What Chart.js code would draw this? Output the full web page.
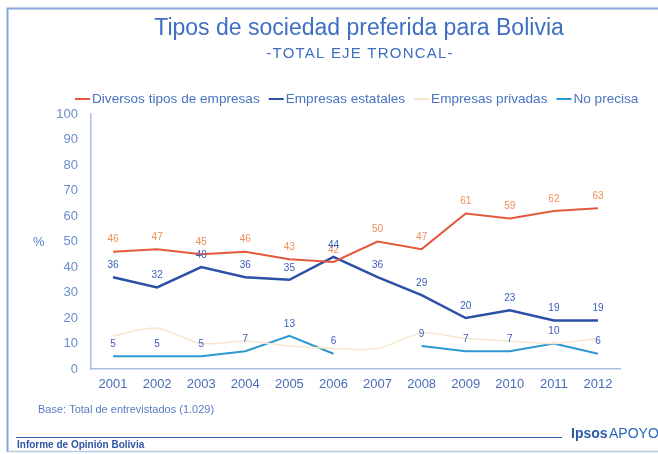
<!DOCTYPE html>
<html>
<head>
<meta charset="utf-8">
<script src="https://cdn.jsdelivr.net/npm/chart.js@4/dist/chart.umd.min.js"></script>
<style>
html,body{margin:0;padding:0;background:#fff;}
canvas{display:block;}
</style>
</head>
<body>
<canvas id="c" width="658" height="454"></canvas>
<script>
const years = ['2001','2002','2003','2004','2005','2006','2007','2008','2009','2010','2011','2012'];
const diversos = [46,47,45,46,43,42,50,47,61,59,62,63];
const estatales = [36,32,40,36,35,44,36,29,20,23,19,19];
const privadas = [13,16,10,11,9,8,8,14,12,11,10,12];
const noPrecisa = [5,5,5,7,13,6,null,9,7,7,10,6];
const yTicks = [0,10,20,30,40,50,60,70,80,90,100];

const FONT = '"Liberation Sans", Arial, sans-serif';

const labelsPlugin = {
  id: 'labelsPlugin',
  afterDatasetsDraw(chart) {
    const ctx = chart.ctx;
    ctx.save();
    ctx.font = '10px ' + FONT;
    ctx.textAlign = 'center';
    ctx.textBaseline = 'middle';
    chart.data.datasets.forEach((ds, di) => {
      if (!ds.labelColor) return;
      const meta = chart.getDatasetMeta(di);
      meta.data.forEach((pt, i) => {
        const v = ds.data[i];
        if (v === null || v === undefined) return;
        ctx.fillStyle = ds.labelColor;
        ctx.fillText(String(v), pt.x, pt.y - 12);
      });
    });
    ctx.restore();
  }
};

const decorPlugin = {
  id: 'decorPlugin',
  beforeDraw(chart) {
    const ctx = chart.ctx;
    ctx.save();
    ctx.fillStyle = '#ffffff';
    ctx.fillRect(0, 0, chart.width, chart.height);
    ctx.strokeStyle = '#8aa8dc';
    ctx.lineWidth = 2;
    ctx.beginPath();
    ctx.moveTo(660, 8.5);
    ctx.lineTo(7.5, 8.5);
    ctx.lineTo(7.5, 452);
    ctx.stroke();
    ctx.strokeStyle = '#b8cbe8';
    ctx.lineWidth = 1.5;
    ctx.beginPath();
    ctx.moveTo(7.5, 451.5);
    ctx.lineTo(660, 451.5);
    ctx.stroke();
    ctx.restore();
  },
  afterDraw(chart) {
    const ctx = chart.ctx;
    ctx.save();
    ctx.textAlign = 'center';
    ctx.textBaseline = 'middle';
    ctx.fillStyle = '#3f6fc2';
    ctx.font = '23px ' + FONT;
    ctx.fillText('Tipos de sociedad preferida para Bolivia', 359, 29);
    ctx.font = '15px ' + FONT;
    ctx.letterSpacing = '1.2px';
    ctx.fillText('-TOTAL EJE TRONCAL-', 360, 54);
    ctx.letterSpacing = '0px';

    // legend
    ctx.font = '13.6px ' + FONT;
    ctx.textAlign = 'left';
    let x = 75;
    const ly = 99;
    chart.data.datasets.forEach(ds => {
      ctx.strokeStyle = ds.borderColor;
      ctx.lineWidth = 2;
      ctx.beginPath();
      ctx.moveTo(x, ly);
      ctx.lineTo(x + 15, ly);
      ctx.stroke();
      x += 17;
      ctx.fillStyle = '#4a72c2';
      ctx.fillText(ds.label, x, ly);
      x += ctx.measureText(ds.label).width + 9;
    });

    ctx.font = '13px ' + FONT;
    ctx.fillStyle = '#5a7cc4';
    ctx.fillText('%', 33, 242);

    ctx.font = '11px ' + FONT;
    ctx.fillStyle = '#5a7cc4';
    ctx.fillText('Base: Total de entrevistados (1.029)', 38, 410);

    ctx.strokeStyle = '#3a64b4';
    ctx.lineWidth = 1;
    ctx.beginPath();
    ctx.moveTo(16, 437.5);
    ctx.lineTo(562, 437.5);
    ctx.stroke();
    ctx.font = 'bold 10px ' + FONT;
    ctx.fillStyle = '#2f55a8';
    ctx.fillText('Informe de Opinión Bolivia', 17, 445);
    ctx.font = 'bold 14px ' + FONT;
    ctx.fillStyle = '#2a5aa8';
    ctx.fillText('Ipsos', 571, 434);
    ctx.font = '14px ' + FONT;
    ctx.fillStyle = '#2a66b8';
    ctx.fillText('APOYO', 609, 434);
    ctx.restore();
  }
};

new Chart(document.getElementById('c'), {
  type: 'line',
  data: {
    labels: years,
    datasets: [
      { label: 'Diversos tipos de empresas', data: diversos, borderColor: '#e4583c', borderWidth: 2, labelColor: '#f08c58', pointRadius: 0, tension: 0 },
      { label: 'Empresas estatales', data: estatales, borderColor: '#2b50a8', borderWidth: 2.5, labelColor: '#3a5cb8', pointRadius: 0, tension: 0 },
      { label: 'Empresas privadas', data: privadas, borderColor: '#f7e6cc', borderWidth: 1.5, pointRadius: 0, tension: 0.3 },
      { label: 'No precisa', data: noPrecisa, borderColor: '#2c98cf', borderWidth: 2, labelColor: '#3a5cb8', pointRadius: 0, tension: 0, spanGaps: false }
    ]
  },
  options: {
    responsive: false,
    animation: false,
    devicePixelRatio: 1,
    layout: { padding: { left: 0, right: 38, top: 114, bottom: 0 } },
    plugins: { legend: { display: false }, title: { display: false }, tooltip: { enabled: false } },
    scales: {
      x: {
        offset: true,
        grid: { display: false, drawTicks: false },
        border: { display: true, color: '#a8c0e4', width: 1.5 },
        ticks: { color: '#4a6cb8', font: { family: FONT, size: 13 }, padding: 8, maxRotation: 0, autoSkip: false },
        afterFit(s) { s.height = 85; }
      },
      y: {
        min: 0, max: 100,
        afterBuildTicks(s) { s.ticks = yTicks.map(v => ({ value: v })); },
        grid: { display: false, drawTicks: false },
        border: { display: true, color: '#a8c0e4', width: 1.5 },
        ticks: { color: '#6a8ccc', font: { family: FONT, size: 13 }, padding: 13 },
        afterFit(s) { s.width = 91; }
      }
    }
  },
  plugins: [decorPlugin, labelsPlugin]
});
</script>
</body>
</html>
